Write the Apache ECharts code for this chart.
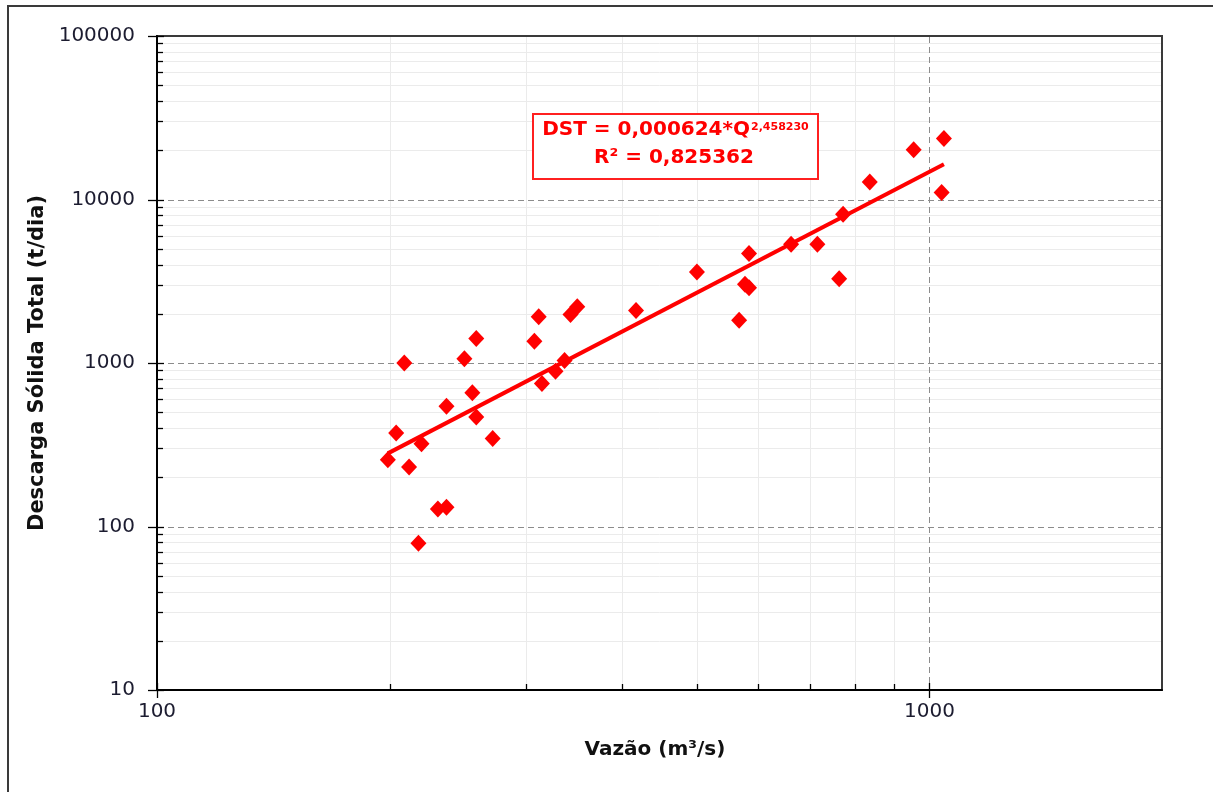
<!DOCTYPE html>
<html><head><meta charset="utf-8">
<script src="https://cdn.jsdelivr.net/npm/echarts@6/dist/echarts.min.js"></script>
<style>html,body{margin:0;padding:0;background:#fff}#c{width:1213px;height:792px}</style>
</head><body><div id="c"></div><script>
// ---- data ----
const qValues   = [199, 204, 209, 212, 218, 220, 231, 237, 237, 250, 256, 259, 259, 272, 308, 312, 315, 328, 337, 343, 350, 417, 500, 567, 577, 584, 584, 662, 716, 764, 773, 837, 954, 1044, 1037];
const dstValues = [256, 373, 1000, 231, 79, 321, 128, 131, 544, 1061, 657, 1413, 468, 345, 1360, 1919, 749, 891, 1036, 1982, 2208, 2097, 3600, 1828, 3027, 2888, 4667, 5322, 5322, 3279, 8123, 12812, 20118, 23628, 11030];
const trendQ   = [199, 1044];
const trendDST = [280, 16450];

const xMajorTicks = [100, 1000];
const xTickLabels = ['100', '1000'];
const xMinorTicks = [200, 300, 400, 500, 600, 700, 800, 900];
const yMajorTicks = [10, 100, 1000, 10000, 100000];
const yTickLabels = ['10', '100', '1000', '10000', '100000'];
const yMinorTicks = [20, 30, 40, 50, 60, 70, 80, 90, 200, 300, 400, 500, 600, 700, 800, 900,
                     2000, 3000, 4000, 5000, 6000, 7000, 8000, 9000, 20000, 30000, 40000, 50000, 60000, 70000, 80000, 90000];

const equationText = 'DST = 0,000624*Q';
const exponentText = '2,458230';
const r2Text = 'R² = 0,825362';
const xTitle = 'Vazão (m³/s)';
const yTitle = 'Descarga Sólida Total (t/dia)';

const X_MIN = 100, X_MAX = 2000, Y_MIN = 10, Y_MAX = 100000;
const FONT = 'DejaVu Sans';

const chart = echarts.init(document.getElementById('c'), null, {renderer: 'canvas'});

function px(v) { return Math.round(v) + 0.5; }

function gridSeries(values, dim, color, dash, z) {
  return {
    type: 'custom', coordinateSystem: 'cartesian2d', clip: false, silent: true, z: z,
    data: values.map(v => dim === 'x' ? [v, Y_MIN] : [X_MIN, v]),
    renderItem: function (params, api) {
      let shape;
      if (dim === 'x') {
        const b = api.coord([api.value(0), Y_MIN]);
        const t = api.coord([api.value(0), Y_MAX]);
        shape = {x1: px(b[0]), y1: t[1] + 1, x2: px(b[0]), y2: b[1] - 1};
      } else {
        const l = api.coord([X_MIN, api.value(1)]);
        const r = api.coord([X_MAX, api.value(1)]);
        shape = {x1: l[0] + 1, y1: px(l[1]), x2: r[0] - 1, y2: px(l[1])};
      }
      return {type: 'line', shape: shape, style: {stroke: color, lineWidth: 1, lineDash: dash}};
    }
  };
}

function tickSeries(values, dim, inLen, outLen, z) {
  return {
    type: 'custom', coordinateSystem: 'cartesian2d', clip: false, silent: true, z: z,
    data: values.map(v => dim === 'x' ? [v, Y_MIN] : [X_MIN, v]),
    renderItem: function (params, api) {
      let shape;
      if (dim === 'x') {
        const b = api.coord([api.value(0), Y_MIN]);
        shape = {x1: px(b[0]), y1: b[1] - inLen, x2: px(b[0]), y2: b[1] + outLen};
      } else {
        const l = api.coord([X_MIN, api.value(1)]);
        shape = {x1: l[0] - outLen, y1: px(l[1]), x2: l[0] + inLen, y2: px(l[1])};
      }
      return {type: 'line', shape: shape, style: {stroke: '#000', lineWidth: 1.3}};
    }
  };
}

const axisLabelCommon = {fontFamily: FONT, fontSize: 20, color: '#1c1c30'};

const option = {
  backgroundColor: '#fff',
  animation: false,
  grid: {left: 157, top: 36, right: 51, bottom: 102, show: true, borderColor: '#3a3a3a', borderWidth: 2, backgroundColor: '#fff'},
  xAxis: {
    type: 'log', logBase: 10, min: X_MIN, max: X_MAX,
    name: xTitle, nameLocation: 'middle', nameGap: 50,
    nameTextStyle: {fontFamily: FONT, fontSize: 20, fontWeight: 'bold', color: '#111', padding: [0, 9, 0, 0]},
    axisLine: {show: true, onZero: false, lineStyle: {color: '#000', width: 2}},
    axisTick: {show: false},
    splitLine: {show: false},
    minorTick: {show: false},
    axisLabel: Object.assign({margin: 12, showMaxLabel: false, formatter: function (v) {
      const i = xMajorTicks.indexOf(Math.round(v));
      return i >= 0 ? xTickLabels[i] : '';
    }}, axisLabelCommon)
  },
  yAxis: {
    type: 'log', logBase: 10, min: Y_MIN, max: Y_MAX,
    name: yTitle, nameLocation: 'middle', nameGap: 103, nameRotate: 90,
    nameTextStyle: {fontFamily: FONT, fontSize: 21, fontWeight: 'bold', color: '#111'},
    axisLine: {show: true, onZero: false, lineStyle: {color: '#000', width: 2}},
    axisTick: {show: false},
    splitLine: {show: false},
    minorTick: {show: false},
    axisLabel: Object.assign({margin: 22, formatter: function (v) {
      const i = yMajorTicks.indexOf(Math.round(v));
      return i >= 0 ? yTickLabels[i] : '';
    }}, axisLabelCommon)
  },
  series: [
    gridSeries(xMinorTicks, 'x', '#ebebeb', null, 1),
    gridSeries(yMinorTicks, 'y', '#ebebeb', null, 1),
    gridSeries(xMajorTicks.slice(1), 'x', '#8c8c8c', [6, 4], 2),
    gridSeries(yMajorTicks.slice(1, -1), 'y', '#8c8c8c', [6, 4], 2),
    tickSeries(xMinorTicks, 'x', 6, 0, 6),
    tickSeries(yMinorTicks, 'y', 6, 0, 6),
    tickSeries(xMajorTicks, 'x', 7, 8, 6),
    tickSeries(yMajorTicks, 'y', 7, 9, 6),
    {
      type: 'line', data: trendQ.map((q, i) => [q, trendDST[i]]), z: 4,
      symbol: 'none', lineStyle: {color: '#ff0000', width: 4, opacity: 1}, silent: true
    },
    {
      type: 'scatter', data: qValues.map((q, i) => [q, dstValues[i]]), z: 5,
      symbol: 'diamond', symbolSize: [16, 17], itemStyle: {color: '#ff0000', opacity: 1}
    }
  ],
  graphic: [
    {type: 'rect', z: 100, silent: true, shape: {x: 8, y: 6, width: 1240, height: 830},
     style: {fill: 'none', stroke: '#3a3a3a', lineWidth: 2}},
    {type: 'rect', z: 100, silent: true, shape: {x: 533, y: 114, width: 285, height: 65},
     style: {fill: '#fff', stroke: '#ff2020', lineWidth: 2}},
    {type: 'text', z: 101, silent: true, x: 750, y: 130,
     style: {text: equationText, fill: '#ff0000', font: 'bold 20px "DejaVu Sans"', align: 'right', verticalAlign: 'middle'}},
    {type: 'text', z: 101, silent: true, x: 751, y: 127,
     style: {text: exponentText, fill: '#ff0000', font: 'bold 11px "DejaVu Sans"', align: 'left', verticalAlign: 'middle'}},
    {type: 'text', z: 101, silent: true, x: 674, y: 157.5,
     style: {text: r2Text, fill: '#ff0000', font: 'bold 20px "DejaVu Sans"', align: 'center', verticalAlign: 'middle'}}
  ]
};
chart.setOption(option);
</script></body></html>
